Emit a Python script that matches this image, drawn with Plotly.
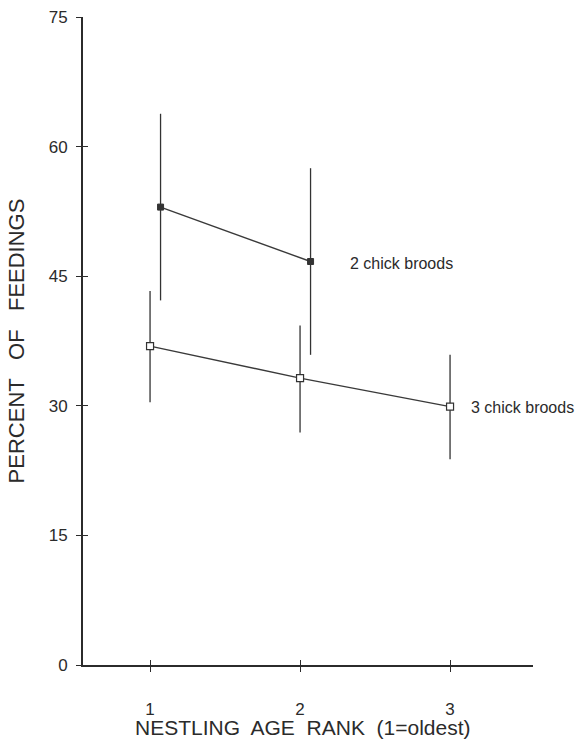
import plotly.graph_objects as go

# ---- data ----
rank_ticks = [1, 2, 3]
pct_ticks = [0, 15, 30, 45, 60, 75]

x_two = [1.07, 2.07]          # 2 chick broods (slightly offset in original)
y_two = [53.0, 46.7]
err_two = [10.8, 10.8]

x_three = [1, 2, 3]           # 3 chick broods
y_three = [36.9, 33.2, 29.9]
err_three_up = [6.4, 6.1, 6.0]
err_three_dn = [6.5, 6.3, 6.1]

label_two = "2 chick broods"
label_three = "3 chick broods"
x_title = "NESTLING\u00a0 AGE\u00a0 RANK\u00a0 (1=oldest)"
y_title = "PERCENT\u00a0\u00a0 OF\u00a0\u00a0 FEEDINGS"

INK = "#2b2b2b"
FONT = "Liberation Sans, Arial, sans-serif"

fig = go.Figure()

fig.add_trace(go.Scatter(
    x=x_two, y=y_two, mode="lines+markers",
    line=dict(color="#3a3a3a", width=1.4),
    marker=dict(symbol="square", size=6, color="#333333",
                line=dict(color="#333333", width=1)),
    error_y=dict(type="data", array=err_two, symmetric=True,
                 color="#333333", thickness=1.3, width=0),
    showlegend=False, hoverinfo="skip"))

fig.add_trace(go.Scatter(
    x=x_three, y=y_three, mode="lines+markers",
    line=dict(color="#3a3a3a", width=1.4),
    marker=dict(symbol="square", size=7, color="white",
                line=dict(color="#333333", width=1.2)),
    error_y=dict(type="data", array=err_three_up, arrayminus=err_three_dn,
                 symmetric=False, color="#333333", thickness=1.3, width=0),
    showlegend=False, hoverinfo="skip"))

# invisible trace to host the overlay axes that draw the "inside" half of the crossing ticks
fig.add_trace(go.Scatter(x=[None], y=[None], xaxis="x2", yaxis="y2",
                         showlegend=False, hoverinfo="skip"))

fig.add_annotation(x=x_two[-1], y=y_two[-1], text=label_two, showarrow=False,
                   xanchor="left", yanchor="middle", xshift=37, yshift=-2,
                   font=dict(family=FONT, size=16, color=INK))
fig.add_annotation(x=x_three[-1], y=y_three[-1], text=label_three, showarrow=False,
                   xanchor="left", yanchor="middle", xshift=19, yshift=-1,
                   font=dict(family=FONT, size=16, color=INK))
# x-axis title (placed as a paper annotation so it can sit exactly under the tick labels)
fig.add_annotation(xref="paper", yref="paper", x=0.5, y=0, text=x_title,
                   showarrow=False, xanchor="center", yanchor="middle",
                   xshift=-5, yshift=-62,
                   font=dict(family=FONT, size=21, color=INK))

xrange = [0.553, 3.553]
yrange = [0, 75]

fig.update_layout(
    width=577, height=742,
    margin=dict(l=83, r=44, t=17, b=77),
    paper_bgcolor="white", plot_bgcolor="white",
    font=dict(family=FONT, color=INK),
    xaxis=dict(
        range=xrange, tickmode="array", tickvals=rank_ticks,
        ticktext=[str(v) for v in rank_ticks],
        ticks="outside", ticklen=5, tickwidth=1.3, tickcolor=INK,
        showline=True, linecolor=INK, linewidth=2,
        showgrid=False, zeroline=False, automargin=False,
        tickfont=dict(family=FONT, size=17, color=INK),
        ticklabelstandoff=23,
    ),
    yaxis=dict(
        range=yrange, tickmode="array", tickvals=pct_ticks,
        ticks="outside", ticklen=5, tickwidth=1.3, tickcolor=INK,
        showline=True, linecolor=INK, linewidth=2,
        showgrid=False, zeroline=False, automargin=False,
        tickfont=dict(family=FONT, size=17, color=INK),
        ticklabelstandoff=5,
        title=dict(text=y_title,
                   font=dict(family=FONT, size=22, color=INK), standoff=18),
    ),
    xaxis2=dict(overlaying="x", anchor="y2", range=xrange, tickmode="array",
                tickvals=rank_ticks, ticks="inside", ticklen=5, tickwidth=1.3,
                tickcolor=INK, showticklabels=False, showline=False,
                showgrid=False, zeroline=False, automargin=False),
    yaxis2=dict(overlaying="y", anchor="x2", range=yrange, tickmode="array",
                tickvals=pct_ticks, ticks="inside", ticklen=5, tickwidth=1.3,
                tickcolor=INK, showticklabels=False, showline=False,
                showgrid=False, zeroline=False, automargin=False),
)

# remove the browser's default 8px body margin so the figure sits at the page origin
fig.write_html("out.html",
               config={"displayModeBar": False},
               post_script="document.body.style.margin='0';document.body.style.overflow='hidden';")
